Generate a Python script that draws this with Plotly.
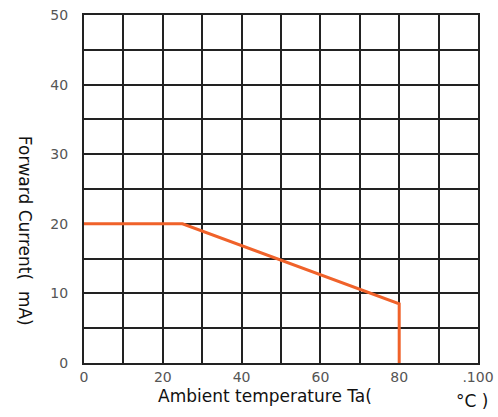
import plotly.graph_objects as go

temp_c = [0, 25, 80, 80]
current_ma = [20, 20, 8.5, 0]
x_ticks = [0, 20, 40, 60, 80, 100]
x_tick_labels = ["0", "20", "40", "60", "80", ".100"]
y_ticks = [0, 10, 20, 30, 40, 50]
y_tick_labels = ["0", "10", "20", "30", "40", "50"]

grid = "#222222"
fig = go.Figure()
fig.add_trace(go.Scatter(x=temp_c, y=current_ma, mode="lines",
                         line=dict(color="#F0622A", width=3), hoverinfo="skip"))

fig.update_layout(
    width=498, height=417,
    margin=dict(l=84, r=20, t=15, b=54),
    plot_bgcolor="white", paper_bgcolor="white",
    showlegend=False,
    font=dict(family="DejaVu Sans", color="#333333", size=14),
)
fig.update_xaxes(range=[0, 100], tickvals=x_ticks, ticktext=x_tick_labels,
                 automargin=False,
                 showgrid=True, gridcolor=grid, gridwidth=1.5,
                 minor=dict(dtick=10, showgrid=True, gridcolor=grid, gridwidth=1.5),
                 showline=True, linecolor=grid, linewidth=2, mirror=True,
                 zeroline=False, ticks="", ticklabelstandoff=0,
                 tickfont=dict(size=14, color="#555555"))
fig.update_yaxes(range=[0, 50], tickvals=y_ticks, ticktext=y_tick_labels,
                 automargin=False,
                 showgrid=True, gridcolor=grid, gridwidth=1.5,
                 minor=dict(dtick=5, showgrid=True, gridcolor=grid, gridwidth=1.5),
                 showline=True, linecolor=grid, linewidth=2, mirror=True,
                 zeroline=False, ticks="", ticklabelstandoff=11,
                 tickfont=dict(size=14, color="#555555"))

fig.add_annotation(text="Ambient temperature Ta(", xref="paper", yref="paper",
                   x=0.46, y=-0.095, showarrow=False, xanchor="center", yanchor="middle",
                   font=dict(size=17, color="#111111", family="DejaVu Sans"))
fig.add_annotation(text="°C )", xref="paper", yref="paper",
                   x=0.985, y=-0.11, showarrow=False, xanchor="center", yanchor="middle",
                   font=dict(size=17, color="#111111", family="DejaVu Sans"))
fig.add_annotation(text="Forward Current(  mA)", xref="paper", yref="paper",
                   x=-0.15, y=0.38, showarrow=False, textangle=90,
                   xanchor="center", yanchor="middle",
                   font=dict(size=17, color="#111111", family="DejaVu Sans"))

fig.write_html("out.html", config={"displayModeBar": False},
               post_script="document.body.style.margin='0';")
